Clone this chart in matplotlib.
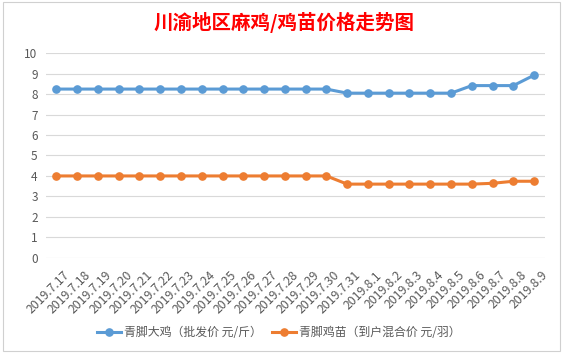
import matplotlib
matplotlib.use("Agg")
import matplotlib.pyplot as plt
import matplotlib.transforms as mtrans
from matplotlib.patches import Rectangle

plt.rcParams['font.family'] = ['Noto Sans CJK SC', 'DejaVu Sans']

# ---- data ----
dates = ["2019.7.17", "2019.7.18", "2019.7.19", "2019.7.20", "2019.7.21", "2019.7.22",
         "2019.7.23", "2019.7.24", "2019.7.25", "2019.7.26", "2019.7.27", "2019.7.28",
         "2019.7.29", "2019.7.30", "2019.7.31", "2019.8.1", "2019.8.2", "2019.8.3",
         "2019.8.4", "2019.8.5", "2019.8.6", "2019.8.7", "2019.8.8", "2019.8.9"]
big_chicken = [8.25] * 14 + [8.05] * 6 + [8.42, 8.42, 8.42, 8.93]
chick = [4.0] * 14 + [3.6] * 7 + [3.64, 3.74, 3.74]
label_big = "青脚大鸡（批发价 元/斤）"
label_chick = "青脚鸡苗（到户混合价 元/羽）"
title = "川渝地区麻鸡/鸡苗价格走势图"
yticks = list(range(0, 11))

BLUE, ORANGE, GRID, TXT = "#5B9BD5", "#ED7D31", "#D9D9D9", "#595959"
W, H = 563, 356

fig = plt.figure(figsize=(W / 100, H / 100), dpi=100)
# chart frame like the spreadsheet chart box
fig.patches.append(Rectangle((3 / W, 1 - 351 / H), 557 / W, 349 / H,
                             transform=fig.transFigure, fill=False,
                             edgecolor="#D0D0D0", lw=0.8))

ax = fig.add_axes([46 / W, 1 - 257.7 / H, 498.5 / W, 204.4 / H])
x = list(range(len(dates)))
ax.plot(x, big_chicken, color=BLUE, lw=2.2, marker="o", ms=5.2, label=label_big)
ax.plot(x, chick, color=ORANGE, lw=2.2, marker="o", ms=5.2, label=label_chick)

ax.set_xlim(-0.5, len(dates) - 0.5)
ax.set_ylim(0, 10)
ax.set_yticks(yticks)
ax.yaxis.grid(True, color=GRID, lw=0.8)
ax.set_axisbelow(True)
for s in ax.spines.values():
    s.set_visible(False)
ax.tick_params(axis="y", length=0, pad=6, labelsize=8.5, labelcolor=TXT)
ax.tick_params(axis="x", length=0, pad=8, labelsize=8.8, labelcolor=TXT)
ax.set_xticks(x)
ax.set_xticklabels(dates, rotation=45, ha="right", rotation_mode="anchor")
shift = mtrans.ScaledTranslation(5 / 72, 0, fig.dpi_scale_trans)
for lab in ax.get_xticklabels():
    lab.set_transform(lab.get_transform() + shift)

fig.text(284 / W, 1 - 22.5 / H, title, ha="center", va="center",
         color="#FF0000", fontsize=14, fontweight="bold")

fig.legend(loc="center", bbox_to_anchor=(279 / W, 1 - 333 / H), ncol=2,
           frameon=False, fontsize=8.6, labelcolor=TXT, handlelength=2.0,
           columnspacing=0.8, handletextpad=0.3)

fig.savefig("out.png", dpi=100)
